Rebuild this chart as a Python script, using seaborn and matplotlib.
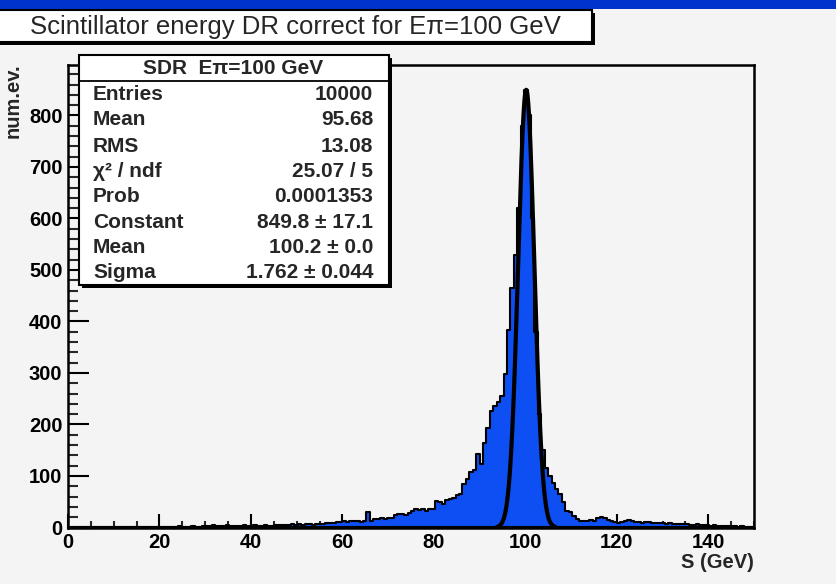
import numpy as np
import pandas as pd
import matplotlib
matplotlib.use("Agg")
import matplotlib.pyplot as plt
import seaborn as sns
from matplotlib.patches import Rectangle
from matplotlib.lines import Line2D

# ---------------- data (200 bins, 0-150 GeV) ----------------
x_lo, x_hi = 0.0, 150.0
counts = [
    0, 0, 1, 0, 0, 0, 0, 1, 0, 0,
    0, 0, 0, 1, 0, 0, 0, 0, 1, 0,
    0, 0, 1, 0, 0, 0, 1, 0, 1, 1,
    0, 1, 2, 1, 0, 1, 2, 1, 0, 2,
    3, 2, 4, 3, 2, 3, 4, 3, 2, 3,
    2, 4, 3, 3, 4, 3, 2, 4, 3, 3,
    5, 4, 4, 5, 5, 6, 4, 6, 5, 7,
    6, 5, 6, 7, 6, 8, 8, 9, 10, 10,
    12, 11, 13, 12, 12, 11, 12, 30, 12, 17,
    16, 18, 17, 18, 19, 24, 26, 27, 25, 28,
    33, 35, 34, 36, 33, 35, 35, 52, 50, 46,
    54, 56, 58, 64, 66, 85, 95, 108, 111, 143,
    124, 165, 194, 227, 235, 243, 256, 299, 383, 465,
    530, 620, 780, 850, 800, 600, 380, 220, 150, 116,
    100, 87, 75, 66, 50, 33, 30, 22, 16, 13,
    13, 12, 14, 13, 18, 20, 19, 14, 12, 10,
    8, 11, 13, 14, 12, 11, 10, 9, 11, 10,
    8, 9, 8, 9, 7, 8, 7, 6, 7, 6,
    6, 5, 5, 6, 4, 4, 5, 3, 4, 3,
    3, 2, 3, 2, 2, 1, 2, 1, 1, 0,
]
fit_constant = 849.8
fit_mean = 100.2
fit_sigma = 1.762
fit_range = (93.8, 106.6)

x_ticks = [0, 20, 40, 60, 80, 100, 120, 140]
y_ticks = [0, 100, 200, 300, 400, 500, 600, 700, 800]

title_text = "Scintillator energy DR correct for E\u03c0=100 GeV"
stats_header = "SDR  E\u03c0=100 GeV"
stats_names = ["Entries", "Mean", "RMS", "\u03c7\u00b2 / ndf", "Prob",
               "Constant", "Mean", "Sigma"]
stats_values = ["10000", "95.68", "13.08", "25.07 / 5", "0.0001353",
                "849.8 \u00b1 17.1", "100.2 \u00b1 0.0", "1.762 \u00b1 0.044"]
x_label = "S (GeV)"
y_label = "num.ev."

# ---------------- style ----------------
sns.set_theme(style="ticks")
plt.rcParams["font.family"] = ["Liberation Sans", "DejaVu Sans"]

W, H = 836, 584
BG = "#f4f4f4"
BLUE = "#0d4ff2"
TICK_FS = 14.5
STAT_FS = 15.0

def fx(x):
    return x / W

def fy(y):
    return 1 - y / H

fig = plt.figure(figsize=(W / 100, H / 100), dpi=100, facecolor=BG)

ax_l, ax_r, ax_t, ax_b = 68, 754, 65, 527.5
ax = fig.add_axes([fx(ax_l), fy(ax_b), (ax_r - ax_l) / W, (ax_b - ax_t) / H])
ax.set_facecolor(BG)

nb = len(counts)
bw = (x_hi - x_lo) / nb
centers = x_lo + bw * (np.arange(nb) + 0.5)
df = pd.DataFrame({"S": centers, "n": np.asarray(counts, dtype=float)})

sns.histplot(data=df, x="S", weights="n", binwidth=bw, binrange=(x_lo, x_hi),
             element="step", fill=True, color=BLUE, edgecolor="black",
             linewidth=1.5, alpha=1.0, ax=ax)

xs = np.linspace(fit_range[0], fit_range[1], 500)
ys = fit_constant * np.exp(-0.5 * ((xs - fit_mean) / fit_sigma) ** 2)
sns.lineplot(x=xs, y=ys, color="black", linewidth=3.0, ax=ax, sort=False)

ax.set_xlim(x_lo, x_hi)
ax.set_ylim(0, 898)
ax.set_xlabel("")
ax.set_ylabel("")

ax.set_xticks(x_ticks)
ax.set_xticks(np.arange(0, 151, 5), minor=True)
ax.set_yticks(y_ticks)
ax.set_yticks(np.arange(0, 898, 20), minor=True)
ax.set_xticklabels([str(v) for v in x_ticks])
ax.set_yticklabels([str(v) for v in y_ticks])

for sp in ax.spines.values():
    sp.set_visible(True)
    sp.set_linewidth(1.8)
    sp.set_color("black")

ax.tick_params(axis="y", which="major", direction="in", length=15, width=1.5,
               pad=4, labelsize=TICK_FS, colors="black")
ax.tick_params(axis="y", which="minor", direction="in", length=7.5, width=1.5)
ax.tick_params(axis="x", which="major", direction="in", length=10, width=1.5,
               pad=4, labelsize=TICK_FS, colors="black")
ax.tick_params(axis="x", which="minor", direction="in", length=5, width=1.5)
for lab in ax.get_xticklabels() + ax.get_yticklabels():
    lab.set_fontweight("bold")

# axis titles
fig.text(fx(13.5), fy(63), y_label, rotation=90, ha="center", va="top",
         fontsize=TICK_FS, fontweight="bold")
fig.text(fx(754), fy(562), x_label, ha="right", va="center",
         fontsize=TICK_FS, fontweight="bold")

# top blue band
fig.add_artist(Rectangle((0, fy(9)), 1, 9 / H, transform=fig.transFigure,
                         facecolor="#0033cc", edgecolor="none", zorder=5))

def box(x0, y0, x1, y1, shadow=3):
    fig.add_artist(Rectangle((fx(x0 + shadow), fy(y1 + shadow)),
                             (x1 - x0) / W, (y1 - y0) / H,
                             transform=fig.transFigure, facecolor="black",
                             edgecolor="black", linewidth=0, zorder=5))
    fig.add_artist(Rectangle((fx(x0), fy(y1)), (x1 - x0) / W, (y1 - y0) / H,
                             transform=fig.transFigure, facecolor="white",
                             edgecolor="black", linewidth=1.5, zorder=6))

# title box
box(-5, 10.5, 592, 42)
fig.text(fx(295), fy(27), title_text, ha="center", va="center",
         fontsize=18.5, zorder=7)

# stats box
box(79, 55, 389, 285)
fig.add_artist(Line2D([fx(79), fx(389)], [fy(81), fy(81)],
                      transform=fig.transFigure, color="black",
                      linewidth=1.3, zorder=7))
fig.text(fx(233), fy(68.5), stats_header, ha="center", va="center",
         fontsize=STAT_FS, fontweight="bold", zorder=7)
row_y = [94, 120, 146, 171.5, 197, 222.5, 248, 273]
for yy, name, val in zip(row_y, stats_names, stats_values):
    fig.text(fx(93), fy(yy), name, ha="left", va="center",
             fontsize=STAT_FS, fontweight="bold", zorder=7)
    fig.text(fx(373), fy(yy), val, ha="right", va="center",
             fontsize=STAT_FS, fontweight="bold", zorder=7)

fig.savefig("out.png", dpi=100, facecolor=BG)
